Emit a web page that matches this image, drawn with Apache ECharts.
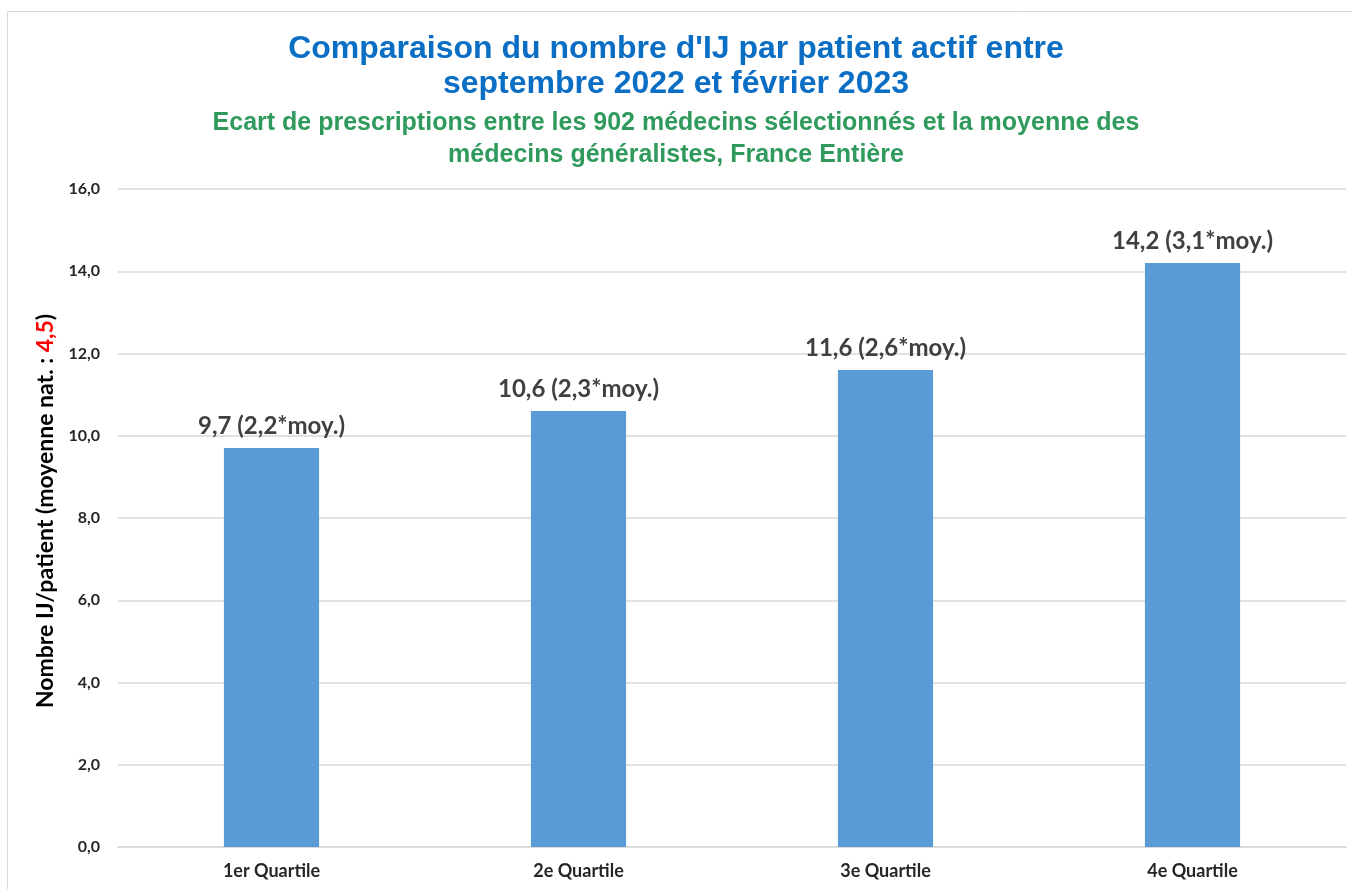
<!DOCTYPE html>
<html>
<head>
<meta charset="utf-8">
<script src="https://cdn.jsdelivr.net/npm/echarts@6/dist/echarts.min.js"></script>
<style>
html, body { margin: 0; padding: 0; background: #fff; }
#chart { width: 1352px; height: 889px; }
</style>
</head>
<body>
<div id="chart"></div>
<script>
// données
var categories = ['1er Quartile', '2e Quartile', '3e Quartile', '4e Quartile'];
var ijParPatient = [9.7, 10.6, 11.6, 14.2];
var ratioMoyenne = [2.2, 2.3, 2.6, 3.1];
var moyenneNat = 4.5;
var yTicks = [0, 2, 4, 6, 8, 10, 12, 14, 16];

function fr(v) {
    return v.toFixed(1).replace('.', ',');
}

var chart = echarts.init(document.getElementById('chart'));
chart.setOption({
    backgroundColor: '#fff',
    animation: false,
    title: [{
        text: "Comparaison du nombre d'IJ par patient actif entre\nseptembre 2022 et février 2023",
        left: 'center',
        top: 27,
        textStyle: {
            color: '#0A6EC4',
            fontFamily: 'Liberation Sans',
            fontWeight: 'bold',
            fontSize: 32,
            lineHeight: 35
        }
    }, {
        text: 'Ecart de prescriptions entre les 902 médecins sélectionnés et la moyenne des\nmédecins généralistes, France Entière',
        left: 'center',
        top: 102,
        textStyle: {
            color: '#2F9A5C',
            fontFamily: 'Liberation Sans',
            fontWeight: 'bold',
            fontSize: 25,
            lineHeight: 32
        }
    }],
    graphic: [{
        type: 'rect',
        shape: { x: 7.5, y: 11.5, width: 1400, height: 1000 },
        style: { fill: null, stroke: '#D9D9D9', lineWidth: 1 },
        silent: true
    }],
    grid: {
        left: 118,
        right: 6,
        top: 189,
        bottom: 42
    },
    xAxis: {
        type: 'category',
        data: categories,
        axisLine: { show: true, lineStyle: { color: '#D9D9D9', width: 1.5 } },
        axisTick: { show: false },
        axisLabel: {
            margin: 15,
            color: '#262626',
            fontFamily: 'Lato',
            fontWeight: 'bold',
            fontSize: 18
        }
    },
    yAxis: {
        type: 'value',
        min: yTicks[0],
        max: yTicks[yTicks.length - 1],
        interval: 2,
        name: '{n|Nombre IJ/patient (moyenne nat. : }{r|' + fr(moyenneNat) + '}{n|)}',
        nameLocation: 'middle',
        nameRotate: 90,
        nameGap: 52,
        nameTextStyle: {
            padding: [0, 0, 0, 14],
            rich: {
                n: { color: '#000', fontFamily: 'Lato', fontWeight: 'bold', fontSize: 23 },
                r: { color: '#FF0000', fontFamily: 'Lato', fontWeight: 'bold', fontSize: 23 }
            }
        },
        axisLine: { show: false },
        axisTick: { show: false },
        splitLine: { lineStyle: { color: '#D9D9D9', width: 1.5 } },
        axisLabel: {
            margin: 18,
            color: '#262626',
            fontFamily: 'Lato',
            fontWeight: 'bold',
            fontSize: 16,
            formatter: function (v) { return fr(v); }
        }
    },
    series: [{
        type: 'bar',
        data: ijParPatient,
        barWidth: '31%',
        itemStyle: { color: '#5B9BD5' },
        label: {
            show: true,
            position: 'top',
            distance: 10,
            color: '#404040',
            fontFamily: 'Lato',
            fontWeight: 'bold',
            fontSize: 24,
            formatter: function (p) {
                return fr(p.value) + ' (' + fr(ratioMoyenne[p.dataIndex]) + '*moy.)';
            }
        }
    }]
});
</script>
</body>
</html>
